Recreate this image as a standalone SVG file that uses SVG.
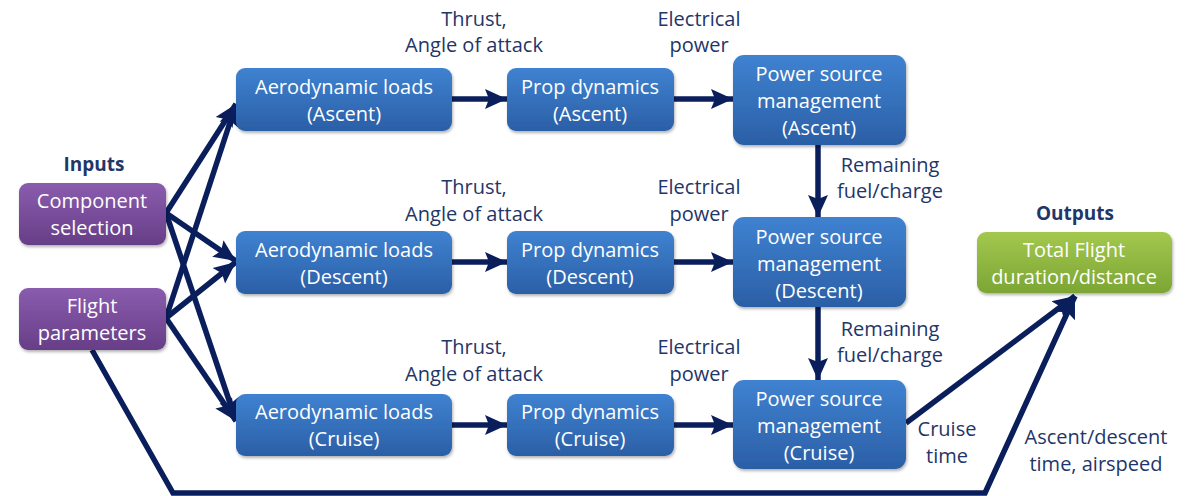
<svg xmlns="http://www.w3.org/2000/svg" width="1193" height="496" viewBox="0 0 1193 496">
  <defs>
    <linearGradient id="gBlue" x1="0" y1="0" x2="0" y2="1">
      <stop offset="0" stop-color="#3f82d1"/>
      <stop offset="1" stop-color="#2b5fa6"/>
    </linearGradient>
    <linearGradient id="gPurple" x1="0" y1="0" x2="0" y2="1">
      <stop offset="0" stop-color="#8a5cae"/>
      <stop offset="1" stop-color="#673e87"/>
    </linearGradient>
    <linearGradient id="gGreen" x1="0" y1="0" x2="0" y2="1">
      <stop offset="0" stop-color="#a3c84e"/>
      <stop offset="1" stop-color="#7ca534"/>
    </linearGradient>
    <filter id="shadow" x="-10%" y="-10%" width="120%" height="130%">
      <feDropShadow dx="1" dy="2" stdDeviation="1.5" flood-color="#000" flood-opacity="0.3"/>
    </filter>
    <marker id="arrow" markerUnits="userSpaceOnUse" markerWidth="24" markerHeight="24" viewBox="0 0 24 24" refX="22" refY="12" orient="auto">
      <path d="M0,2 L22,12 L0,22 L4,12 Z" fill="#0a1e5c"/>
    </marker>
  </defs>
  <style>
    .box { stroke: none; filter: url(#shadow); }
    .blue { fill: url(#gBlue); }
    .purple { fill: url(#gPurple); }
    .green { fill: url(#gGreen); }
    .nt { font-family: "Open Sans", "Noto Sans", sans-serif; font-size: 20px; fill: #ffffff; text-anchor: middle; }
    .lbl { font-family: "Open Sans", "Noto Sans", sans-serif; font-size: 20px; fill: #1f3668; text-anchor: middle; }
    .hdr { font-family: "Open Sans", "Noto Sans", sans-serif; font-size: 19px; font-weight: bold; fill: #1f3668; text-anchor: middle; }
    .wire { stroke: #0a1e5c; stroke-width: 5.5; fill: none; }
    .arr { marker-end: url(#arrow); }
  </style>

  <rect width="1193" height="496" fill="#ffffff"/>

  <!-- connectors -->
  <g id="connectors">
    <!-- inputs fan-out -->
    <line class="wire arr" x1="166" y1="213" x2="236" y2="104"/>
    <line class="wire arr" x1="166" y1="213" x2="236" y2="261"/>
    <line class="wire arr" x1="166" y1="213" x2="236" y2="421"/>
    <line class="wire arr" x1="166" y1="318" x2="236" y2="104"/>
    <line class="wire arr" x1="166" y1="318" x2="236" y2="262"/>
    <line class="wire arr" x1="166" y1="318" x2="236" y2="421"/>
    <!-- row chains -->
    <line class="wire arr" x1="452" y1="99" x2="507" y2="99"/>
    <line class="wire arr" x1="674" y1="99" x2="733" y2="99"/>
    <line class="wire arr" x1="452" y1="262" x2="507" y2="262"/>
    <line class="wire arr" x1="674" y1="262" x2="733" y2="262"/>
    <line class="wire arr" x1="452" y1="425" x2="507" y2="425"/>
    <line class="wire arr" x1="674" y1="425" x2="733" y2="425"/>
    <!-- remaining fuel/charge -->
    <line class="wire arr" x1="818" y1="145" x2="818" y2="217"/>
    <line class="wire arr" x1="818" y1="307" x2="818" y2="380"/>
    <!-- cruise time to output -->
    <line class="wire arr" x1="906" y1="423" x2="1075" y2="296"/>
    <!-- ascent/descent time, airspeed -->
    <polyline class="wire arr" points="92,350 173,493 985,493 1075,296"/>
  </g>

  <!-- free labels -->
  <g id="labels">
    <text class="hdr" x="94" y="171">Inputs</text>
    <text class="hdr" x="1075" y="220">Outputs</text>
    <text class="lbl" x="474" y="26">Thrust,</text>
    <text class="lbl" x="474" y="52">Angle of attack</text>
    <text class="lbl" x="699" y="26">Electrical</text>
    <text class="lbl" x="699" y="52">power</text>
    <text class="lbl" x="474" y="194">Thrust,</text>
    <text class="lbl" x="474" y="221">Angle of attack</text>
    <text class="lbl" x="699" y="194">Electrical</text>
    <text class="lbl" x="699" y="221">power</text>
    <text class="lbl" x="474" y="354">Thrust,</text>
    <text class="lbl" x="474" y="381">Angle of attack</text>
    <text class="lbl" x="699" y="354">Electrical</text>
    <text class="lbl" x="699" y="381">power</text>
    <text class="lbl" x="890" y="172">Remaining</text>
    <text class="lbl" x="890" y="198">fuel/charge</text>
    <text class="lbl" x="890" y="336">Remaining</text>
    <text class="lbl" x="890" y="362">fuel/charge</text>
    <text class="lbl" x="947" y="436">Cruise</text>
    <text class="lbl" x="947" y="463">time</text>
    <text class="lbl" x="1096" y="444">Ascent/descent</text>
    <text class="lbl" x="1096" y="471">time, airspeed</text>
  </g>

  <!-- input nodes -->
  <g id="component-selection">
    <rect class="box purple" x="19" y="183" width="147" height="62" rx="9"/>
    <text class="nt" x="92" y="208">Component</text>
    <text class="nt" x="92" y="235">selection</text>
  </g>
  <g id="flight-parameters">
    <rect class="box purple" x="19" y="288" width="147" height="62" rx="9"/>
    <text class="nt" x="92" y="313">Flight</text>
    <text class="nt" x="92" y="340">parameters</text>
  </g>

  <!-- ascent row -->
  <g id="aero-ascent">
    <rect class="box blue" x="236" y="68" width="216" height="63" rx="9"/>
    <text class="nt" x="344" y="94">Aerodynamic loads</text>
    <text class="nt" x="344" y="121">(Ascent)</text>
  </g>
  <g id="prop-ascent">
    <rect class="box blue" x="507" y="68" width="167" height="63" rx="9"/>
    <text class="nt" x="590" y="94">Prop dynamics</text>
    <text class="nt" x="590" y="121">(Ascent)</text>
  </g>
  <g id="power-ascent">
    <rect class="box blue" x="733" y="55" width="173" height="90" rx="11"/>
    <text class="nt" x="819" y="81">Power source</text>
    <text class="nt" x="819" y="108">management</text>
    <text class="nt" x="819" y="135">(Ascent)</text>
  </g>

  <!-- descent row -->
  <g id="aero-descent">
    <rect class="box blue" x="236" y="231" width="216" height="63" rx="9"/>
    <text class="nt" x="344" y="257">Aerodynamic loads</text>
    <text class="nt" x="344" y="284">(Descent)</text>
  </g>
  <g id="prop-descent">
    <rect class="box blue" x="507" y="231" width="167" height="63" rx="9"/>
    <text class="nt" x="590" y="257">Prop dynamics</text>
    <text class="nt" x="590" y="284">(Descent)</text>
  </g>
  <g id="power-descent">
    <rect class="box blue" x="733" y="217" width="173" height="90" rx="11"/>
    <text class="nt" x="819" y="244">Power source</text>
    <text class="nt" x="819" y="271">management</text>
    <text class="nt" x="819" y="298">(Descent)</text>
  </g>

  <!-- cruise row -->
  <g id="aero-cruise">
    <rect class="box blue" x="236" y="394" width="216" height="62" rx="9"/>
    <text class="nt" x="344" y="419">Aerodynamic loads</text>
    <text class="nt" x="344" y="446">(Cruise)</text>
  </g>
  <g id="prop-cruise">
    <rect class="box blue" x="507" y="394" width="167" height="62" rx="9"/>
    <text class="nt" x="590" y="419">Prop dynamics</text>
    <text class="nt" x="590" y="446">(Cruise)</text>
  </g>
  <g id="power-cruise">
    <rect class="box blue" x="733" y="380" width="173" height="89" rx="11"/>
    <text class="nt" x="819" y="406">Power source</text>
    <text class="nt" x="819" y="433">management</text>
    <text class="nt" x="819" y="460">(Cruise)</text>
  </g>

  <!-- output node -->
  <g id="total-flight">
    <rect class="box green" x="977" y="232" width="195" height="61" rx="9"/>
    <text class="nt" x="1074" y="257">Total Flight</text>
    <text class="nt" x="1074" y="284">duration/distance</text>
  </g>
</svg>
